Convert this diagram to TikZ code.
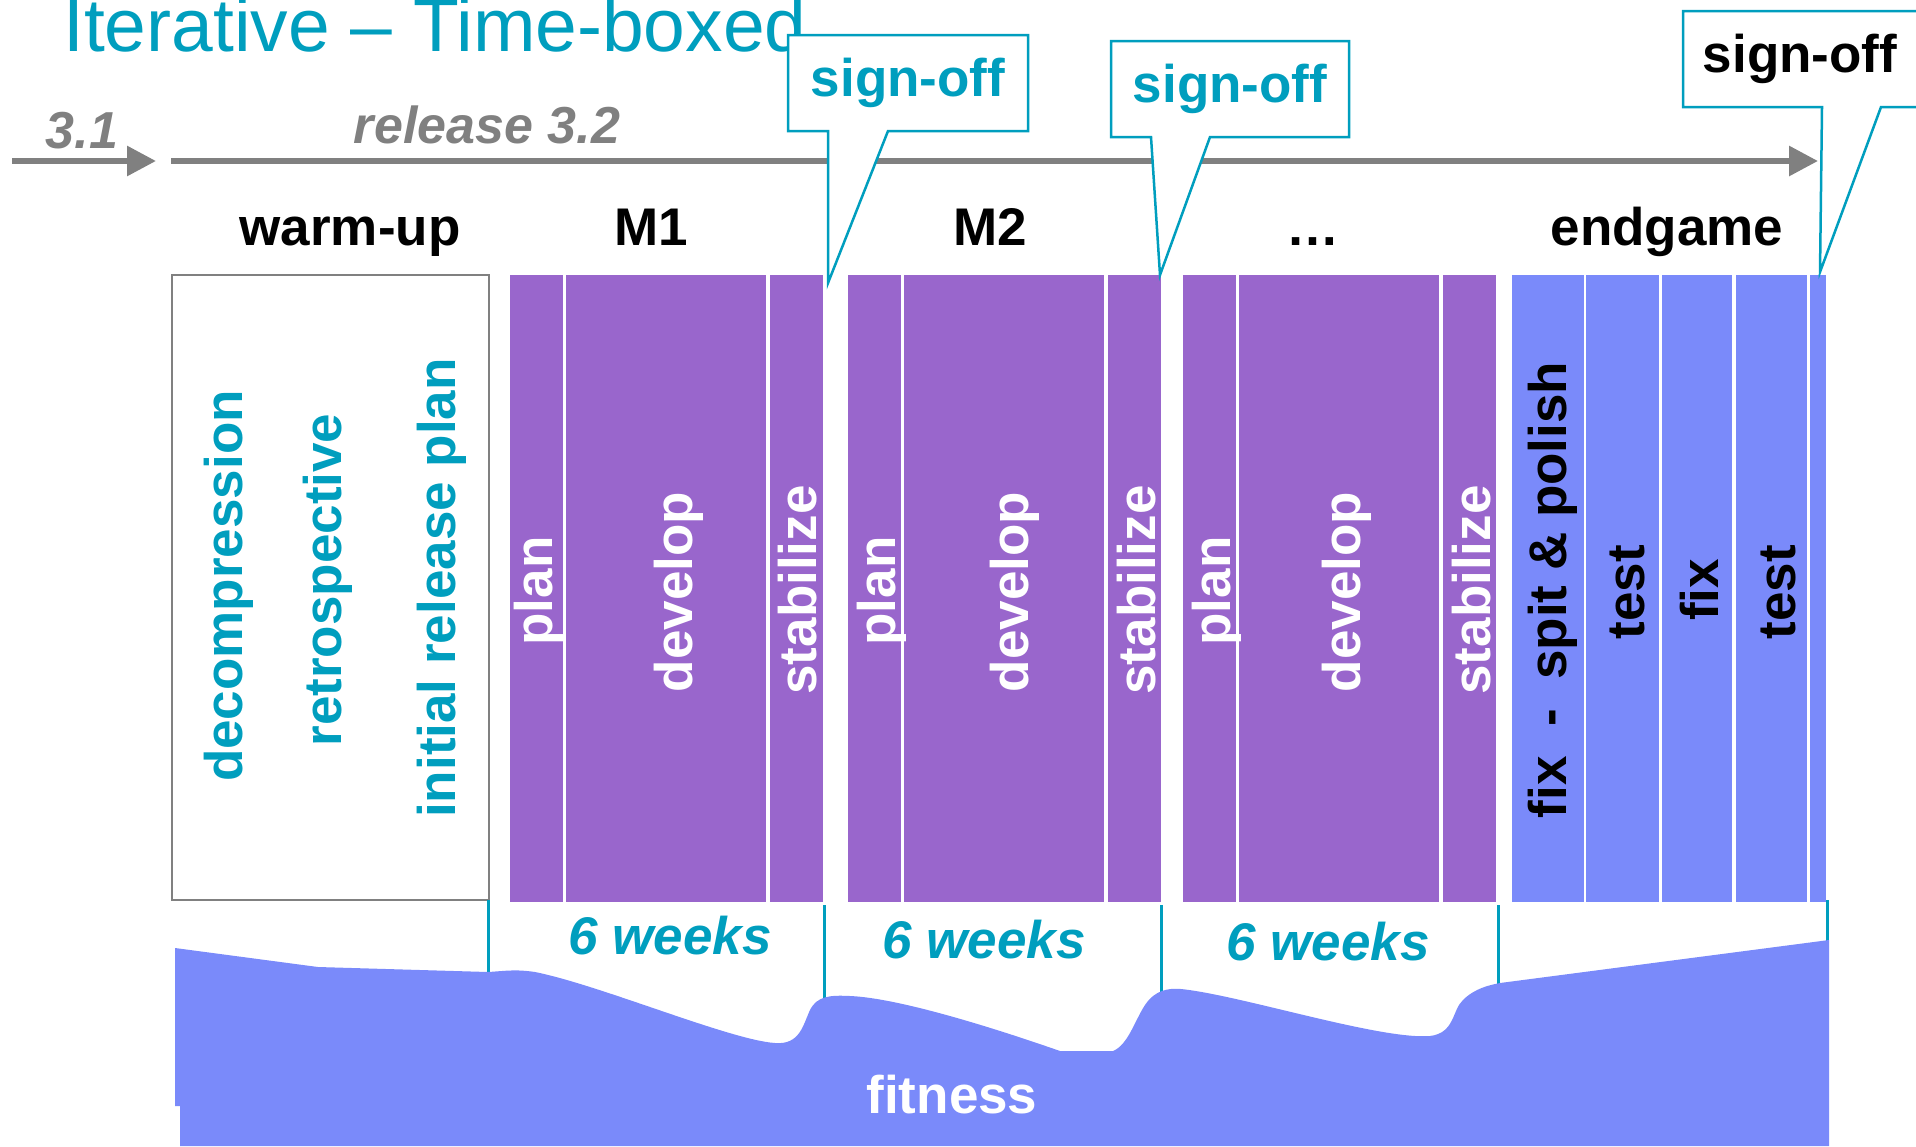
\documentclass[tikz,border=0pt]{standalone}
\usepackage{fontspec}
\setmainfont{Liberation Sans}
\usetikzlibrary{arrows.meta}

\definecolor{brandteal}{RGB}{0,158,190}
\definecolor{linegray}{RGB}{128,128,128}
\definecolor{msviolet}{RGB}{153,102,204}
\definecolor{egblue}{RGB}{122,138,250}

\newcommand{\labelfont}{\fontsize{53}{60}\selectfont\bfseries}

\tikzset{
  hlabel/.style={inner sep=0pt, anchor=base, font=\labelfont},
  hlabelit/.style={inner sep=0pt, anchor=base, font=\labelfont\itshape},
  vlabel/.style={inner sep=0pt, anchor=base, rotate=90, font=\labelfont},
  callout/.style={draw=brandteal, line width=2.5pt, fill=white, line join=miter},
  violetbox/.style={fill=msviolet},
  bluebox/.style={fill=egblue},
  sepline/.style={draw=brandteal, line width=3pt},
  timeline/.style={draw=linegray, line width=6pt, -{Triangle[length=29pt,width=29pt]}},
}

\begin{document}
\begin{tikzpicture}[x=1pt,y=-1pt]
\useasboundingbox (0,0) rectangle (1916,1146);

% heading
\node[anchor=base west, inner sep=0pt, text=brandteal,
      font=\fontsize{75}{82}\selectfont] (title) at (63,51) {Iterative – Time-boxed};

% release timeline
\coordinate (prevS) at (12,161);
\coordinate (prevE) at (156,161);
\coordinate (relS)  at (171,161);
\coordinate (relE)  at (1818,161);
\draw[timeline] (prevS) -- (prevE);
\draw[timeline] (relS) -- (relE);
\node[hlabelit, text=linegray, font=\fontsize{52}{58}\selectfont\bfseries\itshape] (v31) at (82,148) {3.1};
\node[hlabelit, text=linegray, font=\fontsize{52}{58}\selectfont\bfseries\itshape] (v32) at (487,143) {release 3.2};

% phase headings
\node[hlabel] (hwarm) at (350,245) {warm-up};
\node[hlabel] (hm1)   at (651,245) {M1};
\node[hlabel] (hm2)   at (990,245) {M2};
\node[hlabel] (hm3)   at (1313,245) {…};
\node[hlabel] (hend)  at (1667,245) {endgame};

% warm-up box
\draw[draw=linegray, line width=2.7pt] (172,275) rectangle (489,900);
\node[vlabel, text=brandteal] (wdec) at (242,586) {decompression};
\node[vlabel, text=brandteal] (wret) at (341,580) {retrospective};
\node[vlabel, text=brandteal] (wirp) at (455,588) {initial release plan};

% milestones: plan / develop / stabilize
\foreach \x/\p/\d/\s/\n in {510/42/182/306/1, 848/47/180/307/2, 1183/47/177/307/3}{
  \fill[violetbox] (\x,275) rectangle (\x+53,902);
  \fill[violetbox] (\x+56,275) rectangle (\x+256,902);
  \fill[violetbox] (\x+260,275) rectangle (\x+313,902);
  \node[vlabel, text=white] (plan\n)  at (\x+\p,591) {plan};
  \node[vlabel, text=white] (dev\n)   at (\x+\d,592) {develop};
  \node[vlabel, text=white] (stab\n)  at (\x+\s,590) {stabilize};
}

% endgame
\fill[bluebox] (1512,275) rectangle (1584,902);
\fill[bluebox] (1586,275) rectangle (1659,902);
\fill[bluebox] (1662,275) rectangle (1732,902);
\fill[bluebox] (1736,275) rectangle (1807,902);
\fill[bluebox] (1810,275) rectangle (1826,902);
\node[vlabel] (efix)  at (1566,590) {fix~~-~~spit \& polish};
\node[vlabel] (etst1) at (1644,592) {test};
\node[vlabel] (efix2) at (1718,590) {fix};
\node[vlabel] (etst2) at (1795,592) {test};

% duration markers
\coordinate (s0a) at (488,900);  \coordinate (s0b) at (488,975);
\coordinate (s1a) at (824,905);  \coordinate (s1b) at (824,1003);
\coordinate (s2a) at (1161,905); \coordinate (s2b) at (1161,997);
\coordinate (s3a) at (1498,905); \coordinate (s3b) at (1498,987);
\coordinate (s4a) at (1827,900); \coordinate (s4b) at (1827,944);
\foreach \i in {0,...,4} \draw[sepline] (s\i a) -- (s\i b);

\node[hlabelit, text=brandteal] (wk1) at (670,954) {6 weeks};
\node[hlabelit, text=brandteal] (wk2) at (984,958) {6 weeks};
\node[hlabelit, text=brandteal] (wk3) at (1328,960) {6 weeks};

% fitness curve
\fill[egblue]
  (175,948) -- (318,967) -- (488,972)
  .. controls (505,971) and (515,969) .. (535,972)
  .. controls (600,985) and (730,1040) .. (775,1043)
  .. controls (800,1045) and (803,1025) .. (810,1010)
  .. controls (817,996) and (830,995) .. (850,996)
  .. controls (900,998) and (1000,1030) .. (1060,1051)
  -- (1113,1051)
  .. controls (1128,1045) and (1135,1020) .. (1145,1005)
  .. controls (1155,990) and (1168,988) .. (1181,989)
  .. controls (1240,995) and (1380,1040) .. (1430,1036)
  .. controls (1455,1033) and (1452,1010) .. (1463,1000)
  .. controls (1475,988) and (1490,985) .. (1500,983)
  -- (1829,940) -- (1829,1146) -- (180,1146) -- (180,1106) -- (175,1106) -- cycle;
\node[hlabel, text=white] (fit) at (952,1113) {fitness};

% sign-off callouts
\draw[callout] (788,35) -- (1028,35) -- (1028,131) -- (888,131) -- (828,283)
  -- (828,131) -- (788,131) -- cycle;
\node[hlabel, text=brandteal] (so1) at (908,96) {sign-off};

\draw[callout] (1111,41) -- (1349,41) -- (1349,137) -- (1210,137) -- (1160,275)
  -- (1151,137) -- (1111,137) -- cycle;
\node[hlabel, text=brandteal] (so2) at (1230,102) {sign-off};

\draw[callout] (1683,11) -- (1930,11) -- (1930,107) -- (1881,107) -- (1820,272)
  -- (1822,107) -- (1683,107) -- cycle;
\node[hlabel] (so3) at (1800,72) {sign-off};
\end{tikzpicture}
\end{document}
